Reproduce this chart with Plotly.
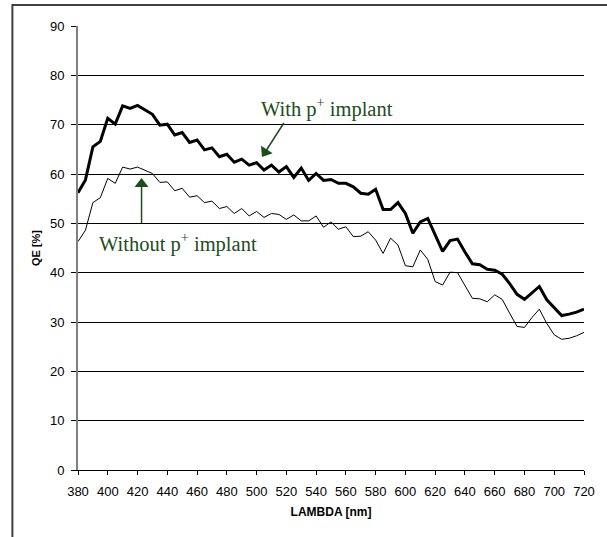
import plotly.graph_objects as go

wavelength = [380, 385, 390, 395, 400, 405, 410, 415, 420, 425, 430, 435, 440, 445, 450,
              455, 460, 465, 470, 475, 480, 485, 490, 495, 500, 505, 510, 515, 520, 525,
              530, 535, 540, 545, 550, 555, 560, 565, 570, 575, 580, 585, 590, 595, 600,
              605, 610, 615, 620, 625, 630, 635, 640, 645, 650, 655, 660, 665, 670, 675,
              680, 685, 690, 695, 700, 705, 710, 715, 720]

qe_with = [56.2, 58.8, 65.5, 66.6, 71.3, 70.1, 73.8, 73.3, 73.9, 73.0, 72.1, 69.9, 70.1, 67.9, 68.4,
           66.4, 66.9, 64.9, 65.3, 63.5, 64.0, 62.4, 63.0, 61.8, 62.3, 60.8, 61.8, 60.4, 61.5, 59.3,
           61.2, 58.7, 60.1, 58.7, 58.9, 58.1, 58.1, 57.4, 56.1, 55.9, 56.9, 52.8, 52.8, 54.2, 52.0,
           48.0, 50.3, 51.0, 47.7, 44.3, 46.5, 46.8, 44.2, 41.8, 41.6, 40.7, 40.5, 39.7, 37.8, 35.6,
           34.6, 35.9, 37.2, 34.5, 32.8, 31.3, 31.6, 32.0, 32.6]

qe_without = [46.3, 48.6, 54.2, 55.2, 59.1, 58.1, 61.4, 61.0, 61.4, 60.8, 60.1, 58.3, 58.4, 56.6, 57.1,
              55.3, 55.6, 54.2, 54.5, 53.0, 53.4, 52.0, 53.0, 51.5, 52.4, 51.2, 52.0, 51.8, 50.8, 51.7,
              50.5, 50.5, 51.5, 49.2, 50.3, 48.8, 49.3, 47.3, 47.4, 48.3, 46.6, 43.9, 47.0, 45.6, 41.4,
              41.2, 44.6, 42.7, 38.2, 37.5, 40.1, 40.0, 37.5, 34.8, 34.7, 34.1, 35.5, 34.6, 31.8, 29.1,
              28.9, 30.9, 32.6, 29.7, 27.4, 26.5, 26.7, 27.2, 27.9]

x_ticks = list(range(380, 721, 20))
y_ticks = list(range(0, 91, 10))

# Label callouts (text position, arrow tail, arrow head) in data units
label_texts = ["With p<sup>+</sup> implant", "Without p<sup>+</sup> implant"]
label_x = [547.3, 447.1]
label_y = [73.4, 46.1]
arrow_tail_x = [518.3, 422.7]
arrow_tail_y = [70.34, 50.07]
arrow_head_x = [505.8, 422.7]
arrow_head_y = [64.46, 57.97]
arrow_head_angle = [213, 0]

GREEN = "#1b4d1b"
SANS = "Liberation Sans, Arial, sans-serif"
SERIF = "Liberation Serif, Times New Roman, serif"

fig = go.Figure()
fig.add_trace(go.Scatter(x=wavelength, y=qe_without, mode="lines",
                         line=dict(color="black", width=1), name="Without p+ implant",
                         showlegend=False))
fig.add_trace(go.Scatter(x=wavelength, y=qe_with, mode="lines",
                         line=dict(color="black", width=3), name="With p+ implant",
                         showlegend=False))

# Arrow shafts
shaft_x, shaft_y = [], []
for tx, ty, hx, hy in zip(arrow_tail_x, arrow_tail_y, arrow_head_x, arrow_head_y):
    shaft_x += [tx, hx, None]
    shaft_y += [ty, hy, None]
fig.add_trace(go.Scatter(x=shaft_x, y=shaft_y, mode="lines",
                         line=dict(color=GREEN, width=1.5), showlegend=False, hoverinfo="skip"))
# Arrow heads
fig.add_trace(go.Scatter(x=arrow_head_x, y=arrow_head_y, mode="markers",
                         marker=dict(symbol="triangle-up", size=12, color=GREEN,
                                     angle=arrow_head_angle, line=dict(width=0)),
                         showlegend=False, hoverinfo="skip"))

fig.update_layout(
    width=607, height=537,
    margin=dict(l=78, r=20, t=26, b=67),
    paper_bgcolor="white", plot_bgcolor="white",
    font=dict(family=SANS, size=13, color="black"),
    xaxis=dict(range=[380, 720], tickvals=x_ticks, ticktext=[str(v) for v in x_ticks],
               showgrid=False, zeroline=False, showline=True, linecolor="black", linewidth=1,
               ticks="outside", ticklen=4, tickcolor="black", tickwidth=1,
               ticklabelstandoff=5,
               tickfont=dict(family=SANS, size=13, color="black"),
               title=dict(text="<b>LAMBDA [nm]</b>", font=dict(family=SANS, size=12, color="black"),
                          standoff=10)),
    yaxis=dict(range=[0, 90], tickvals=y_ticks, ticktext=[str(v) for v in y_ticks],
               showgrid=True, gridcolor="black", gridwidth=1, zeroline=False,
               showline=True, linecolor="#808080", linewidth=2,
               ticks="outside", ticklen=5, tickcolor="black", tickwidth=1,
               ticklabelstandoff=4,
               tickfont=dict(family=SANS, size=13, color="black"),
               title=dict(text="<b>QE [%]</b>", font=dict(family=SANS, size=11, color="black"),
                          standoff=7)),
    shapes=[dict(type="rect", xref="paper", yref="paper",
                 x0=(12 - 78) / 509, x1=(640 - 78) / 509,
                 y0=(470 - 580) / 444, y1=(470 - 5) / 444,
                 line=dict(color="#404040", width=2), fillcolor="rgba(0,0,0,0)", layer="below")],
)

for txt, lx, ly in zip(label_texts, label_x, label_y):
    fig.add_annotation(x=lx, y=ly, text=txt, showarrow=False,
                       font=dict(family=SERIF, size=20.5, color=GREEN),
                       xanchor="center", yanchor="middle")

fig.write_html("out.html")
